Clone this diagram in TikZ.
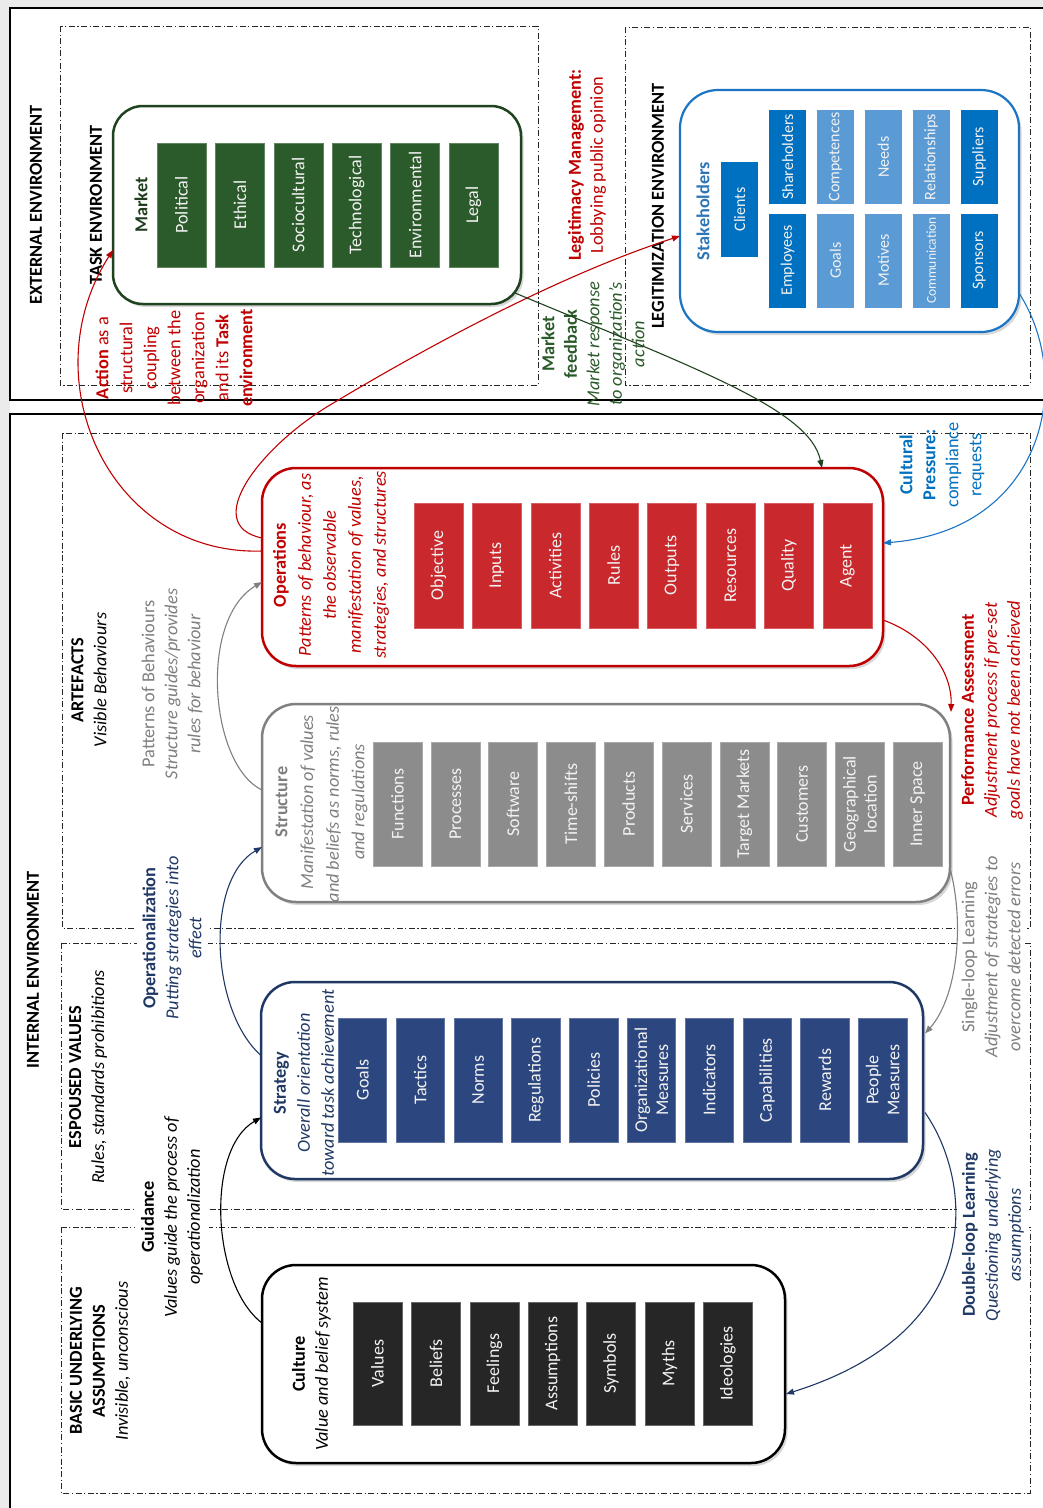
\documentclass[tikz,border=0pt]{standalone}
\usepackage{fontspec}
\setmainfont{Carlito}
\usetikzlibrary{arrows.meta,calc,shadows}

\definecolor{mkgreen}{HTML}{2B5A2B}
\definecolor{mkline}{HTML}{1E431E}
\definecolor{mktext}{HTML}{1E3F1E}
\definecolor{fbgreen}{HTML}{2A5A2A}
\definecolor{opred}{HTML}{C9282D}
\definecolor{opline}{HTML}{C00000}
\definecolor{redtxt}{HTML}{C00000}
\definecolor{stgrey}{HTML}{8C8C8C}
\definecolor{stline}{HTML}{808080}
\definecolor{sttext}{HTML}{7F7F7F}
\definecolor{navy}{HTML}{1F3864}
\definecolor{navycell}{HTML}{2C4780}
\definecolor{cucell}{HTML}{262626}
\definecolor{skdark}{HTML}{0070C0}
\definecolor{sklight}{HTML}{5B9BD5}
\definecolor{skline}{HTML}{1C75C4}
\definecolor{sktext}{HTML}{2E75B6}
\definecolor{cellfg}{HTML}{F2F2F2}
\definecolor{pagegrey}{HTML}{EBEBEB}

\newcommand{\lblsize}{\fontsize{18.3}{23}\selectfont}
\newcommand{\ttlsize}{\fontsize{18.3}{25}\selectfont}
\newcommand{\cellsize}{\fontsize{18}{21}\selectfont}
\newcommand{\sksize}{\fontsize{16}{19}\selectfont}

\tikzset{
  lbl/.style={rotate=90, align=center, font=\lblsize, inner sep=0pt},
  ttl/.style={rotate=90, align=center, font=\ttlsize, inner sep=0pt},
  masklbl/.style={lbl, fill=white, inner sep=6pt},
  envframe/.style={draw=black, line width=2pt},
  zone/.style={draw=black!85, line width=0.8pt, dash pattern=on 6pt off 2.5pt on 1.2pt off 2.5pt},
  groupbox/.style={rectangle, rounded corners=34pt, line width=2.5pt, fill=white,
    inner sep=0pt, outer sep=0pt,
    drop shadow={shadow xshift=2.5pt, shadow yshift=-3pt, opacity=0.3}},
  cellbox/.style={rotate=90, rectangle, fill=#1, draw=#1!75!white, line width=0.6pt,
    minimum width=124pt, minimum height=49pt, inner sep=1pt, align=center,
    font=\cellsize, text=cellfg},
  skcell/.style={rotate=90, rectangle, fill=#1, minimum width=94pt, minimum height=37pt,
    inner sep=1pt, align=center, font=\sksize, text=cellfg},
  conn/.style={line width=1.1pt, -{Triangle[length=8pt,width=6pt]}}
}

\begin{document}
\begin{tikzpicture}[x=1pt,y=-1pt]
\useasboundingbox (0,0) rectangle (1043,1508);
\clip (0,0) rectangle (1043,1508);
\fill[pagegrey] (0,0) rectangle (1043,1508);
\fill[white] (10,8) rectangle (1043,1508);

% environment frames
\draw[envframe] (10,8) rectangle (1060,400);
\draw[envframe] (10,414) rectangle (1060,1530);

% dash-dot zones
\draw[zone] (60,26) rectangle (538,385);
\draw[zone] (625,27) rectangle (1030,385);
\draw[zone] (62,433) rectangle (1030,928);
\draw[zone] (61,943) rectangle (1030,1209);
\draw[zone] (61,1227) rectangle (1030,1493);

% zone and process labels
\node[lbl, font=\lblsize\bfseries] (extlbl) at (36,205) {EXTERNAL ENVIRONMENT};
\node[lbl, font=\lblsize\bfseries] (tasklbl) at (96,205) {TASK ENVIRONMENT};
\node[lbl, font=\lblsize\bfseries] (legitlbl) at (658,206) {LEGITIMIZATION ENVIRONMENT};
\node[lbl, font=\lblsize\bfseries] (intlbl) at (33,970) {INTERNAL ENVIRONMENT};

\node[lbl, text=redtxt, font=\fontsize{18.3}{24}\selectfont] (actionlbl) at (174,358)
  {\textbf{Action} as a\\structural\\coupling\\between the\\organization\\and its \textbf{Task}\\\textbf{environment}};
\node[lbl, text=redtxt, font=\fontsize{18.3}{22}\selectfont] (legitmgmt) at (587,165)
  {\textbf{Legitimacy Management:}\\Lobbying public opinion};
\node[lbl, text=fbgreen, font=\fontsize{18.3}{22.5}\selectfont] (feedbacklbl) at (593,344)
  {\textbf{Market}\\\textbf{feedback}\\\textit{Market response}\\\textit{to organization's}\\\textit{action}};

\node[lbl] (artlbl) at (89,680) {\textbf{ARTEFACTS}\\\textit{Visible Behaviours}};
\node[lbl, text=sttext] (patternlbl) at (172,684)
  {Patterns of Behaviours\\\textit{Structure guides/provides}\\\textit{rules for behaviour}};
\node[lbl, text=skdark] (culturallbl) at (942,465)
  {\textbf{Cultural}\\\textbf{Pressure:}\\compliance\\requests};
\node[lbl, text=redtxt] (perflbl) at (992,710)
  {\textbf{Performance Assessment}\\\textit{Adjustment process if pre-set}\\\textit{goals have not been achieved}};
\node[masklbl, text=navy] (operlbl) at (172,938)
  {\textbf{Operationalization}\\\textit{Putting strategies into}\\\textit{effect}};
\node[lbl] (esplbl) at (88,1077) {\textbf{ESPOUSED VALUES}\\\textit{Rules, standards prohibitions}};
\node[masklbl, text=sttext, inner sep=5pt] (singlelbl) at (991,957)
  {Single-loop Learning\\\textit{Adjustment of strategies to}\\\textit{overcome detected errors}};
\node[masklbl, text=navy, inner sep=5pt] (doublelbl) at (993,1235)
  {\textbf{Double-loop Learning}\\\textit{Questioning underlying}\\\textit{assumptions}};
\node[masklbl] (guidlbl) at (172,1217)
  {\textbf{Guidance}\\\textit{Values guide the process of}\\\textit{operationalization}};
\node[lbl] (basiclbl) at (100,1361)
  {\textbf{BASIC UNDERLYING}\\\textbf{ASSUMPTIONS}\\\textit{Invisible, unconscious}};

% group boxes
\node[groupbox, rounded corners=30pt, draw=mkline, minimum width=408pt, minimum height=198pt] (market) at (317,205) {};
\node[groupbox, rounded corners=38pt, line width=2.2pt, draw=skline, minimum width=339pt, minimum height=242pt] (stake) at (849.5,211) {};
\node[groupbox, draw=opline, minimum width=621pt, minimum height=198pt] (ops) at (572.5,567) {};
\node[groupbox, draw=stline, minimum width=688pt, minimum height=198pt] (struct) at (606,803) {};
\node[groupbox, draw=navy, minimum width=662pt, minimum height=197pt] (strat) at (592,1080.5) {};
\node[groupbox, draw=black, minimum width=523pt, minimum height=198pt] (culture) at (523.5,1364) {};

% box titles
\node[lbl, text=mktext, font=\lblsize\bfseries] (markettl) at (141,205) {Market};
\node[lbl, text=sktext, font=\lblsize\bfseries] (staketl) at (703,211) {Stakeholders};
\node[ttl, text=redtxt] (opstl) at (331,565)
  {\textbf{Operations}\\\textit{Patterns of behaviour, as}\\\textit{the observable}\\\textit{manifestation of values,}\\\textit{strategies, and structures}};
\node[ttl, text=sttext, font=\fontsize{18.3}{25.7}\selectfont] (structtl) at (321.5,802)
  {\textbf{Structure}\\\textit{Manifestation of values}\\\textit{and beliefs as norms, rules,}\\\textit{and regulations}};
\node[ttl, text=navy, font=\fontsize{18.3}{24}\selectfont] (strattl) at (304,1083)
  {\textbf{Strategy}\\\textit{Overall orientation}\\\textit{toward task achievement}};
\node[ttl, font=\fontsize{18.3}{23}\selectfont] (culturetl) at (311.5,1364)
  {\textbf{Culture}\\\textit{Value and belief system}};

% market factors
\foreach \t [count=\i] in {Political,Ethical,Sociocultural,Technological,Environmental,Legal}
  \node[cellbox=mkgreen] (mk\i) at ({181.5+58.4*(\i-1)},205) {\t};

% stakeholder grid
\node[skcell=skdark, minimum width=95pt] (sk0) at (739.5,209.5) {Clients};
\foreach \t/\c [count=\i] in {Shareholders/skdark,Competences/sklight,Needs/sklight,Relationships/sklight,Suppliers/skdark}
  \node[skcell=\c] (skt\i) at ({787.5+47.9*(\i-1)},157) {\t};
\foreach \t/\c [count=\i] in {Employees/skdark,Goals/sklight,Motives/sklight,{\fontsize{13.5}{15}\selectfont Communication}/sklight,Sponsors/skdark}
  \node[skcell=\c] (skb\i) at ({787.5+47.9*(\i-1)},260.5) {\t};

% operations
\foreach \t [count=\i] in {Objective,Inputs,Activities,Rules,Outputs,Resources,Quality,Agent}
  \node[cellbox=opred, minimum width=125pt] (op\i) at ({438.5+58.4*(\i-1)},565.5) {\t};

% structure
\foreach \t [count=\i] in {Functions,Processes,Software,Time-shifts,Products,Services,Target Markets,Customers,{Geographical\\location},Inner Space}
  \node[cellbox=stgrey] (st\i) at ({397.5+57.8*(\i-1)},804) {\t};

% strategy
\foreach \t [count=\i] in {Goals,Tactics,Norms,Regulations,Policies,{Organizational\\Measures},Indicators,Capabilities,Rewards,{People\\Measures}}
  \node[cellbox=navycell, minimum height=48.5pt] (sg\i) at ({362.5+57.8*(\i-1)},1080) {\t};

% culture
\foreach \t [count=\i] in {Values,Beliefs,Feelings,Assumptions,Symbols,Myths,Ideologies}
  \node[cellbox=cucell, draw=black!60, minimum width=123pt] (cu\i) at ({377.5+58.4*(\i-1)},1363.5) {\t};

% connectors
\draw[conn, opline] ($(ops.west)+(0,-16)$) .. controls (110,556) and (30,380) .. ($(market.west)+(0,45)$);
\draw[conn, opline] ($(ops.west)+(0,-29)$) .. controls (200,525) and (260,447) .. (330,405)
  .. controls (430,345) and (560,275) .. ($(stake.west)+(0,25)$);
\draw[conn, mkline] ($(market.south east)+(-6,-11)$) .. controls (700,370) and (810,410) .. ($(ops.north east)+(-61,0)$);
\draw[conn, skline] ($(stake.south east)+(0,-39)$) .. controls (1075,380) and (1045,530) .. ($(ops.east)+(0,-24)$);
\draw[conn, opline] ($(ops.east)+(0,53)$) .. controls (925,635) and (952,670) .. ($(struct.north east)+(1,8)$);
\draw[conn, stline] ($(struct.west)+(0,-13)$) .. controls (210,765) and (198,620) .. ($(ops.west)+(0,15)$);
\draw[conn, navy] ($(strat.west)+(0,-25)$) .. controls (210,1010) and (205,880) .. ($(struct.west)+(0,44)$);
\draw[conn, stline] ($(struct.east)+(0,65)$) .. controls (966,930) and (955,1000) .. ($(strat.east)+(2,-47)$);
\draw[conn, black] ($(culture.west)+(0,-41)$) .. controls (212,1285) and (205,1150) .. ($(strat.west)+(0,37)$);
\draw[conn, navy] ($(strat.east)+(2,32)$) .. controls (972,1180) and (990,1330) .. ($(culture.east)+(1,30)$);
\end{tikzpicture}
\end{document}
